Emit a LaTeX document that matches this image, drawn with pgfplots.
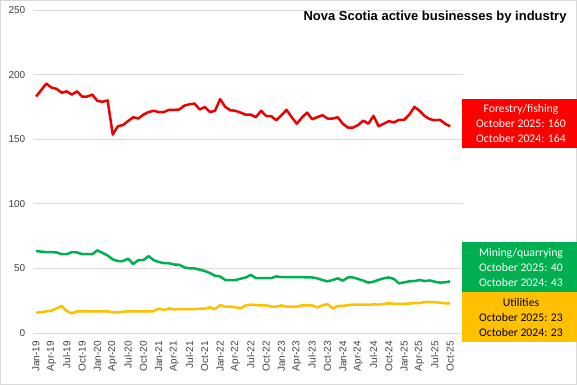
\documentclass[border=0pt]{standalone}
\usepackage{fontspec}
\setmainfont{Liberation Sans}
\newfontfamily\carlito{Carlito}
\usepackage{pgfplots}
\usepackage{pgfplotstable}
\pgfplotsset{compat=1.18}
\definecolor{cred}{HTML}{FF0000}
\definecolor{lred}{HTML}{EE0000}
\definecolor{cgreen}{HTML}{00B050}
\definecolor{cyellow}{HTML}{FFC000}
\definecolor{gridc}{HTML}{D9D9D9}
\definecolor{tickc}{HTML}{404040}

\pgfplotstableread{
red green yellow
183 63.4 15.7
188 63 16.2
193 62.6 16.8
190 62.6 17.3
189 62.4 19
186 61 21
187 61 17
184.5 62.6 15.2
187 62.4 16.8
183 61 16.8
183 61 16.8
184.5 61 16.8
179.6 64 16.8
179 62 16.8
180 60 16.8
153.6 57 16
160 55.7 16
161 55.7 16.5
164 57.5 16.8
167 53.4 16.8
166 56.4 16.8
169 56.4 16.8
171 59.5 16.8
172 56.4 16.8
171 55 19
171 54 17.8
172.7 54 19
172.7 53 18.3
173 52.8 18.5
176 50.8 18.5
177 50 18.5
177.6 50 18.5
173 49 18.8
175 48 18.8
171 46.4 19.8
172 44.3 18.5
181 43.8 21.6
175 41 20.4
172.4 41 20.4
172 41 20
170.6 42 19
169 43 21.4
169 45 22
167 42.5 21.6
172 42.5 21.4
168 42.5 21.4
167.8 42.5 20.4
164.7 43.8 20.4
168.6 43.3 21.4
172.7 43.3 20.4
167 43.3 20.4
162 43.3 20.4
166.8 43.3 21.4
170.6 43 21.4
165.5 43 21.3
167 42.3 19.8
168.6 41 21.4
166 40 22.4
166 41 19
167 42.3 21
162 40.5 21
159 43 21.6
159 43 22
161 41.8 22
164.4 40.5 22
162 39 21.8
168 39.7 22.2
160 41.2 22
162 42.3 22.4
164 43 23
163 41.8 22.6
165 38.4 22.6
165 39.2 22.6
169 40 22.8
175 40.2 23.2
172 41 23.2
168 40.2 24
165.5 40.7 24
164.7 39.7 23.8
165 39 23.5
162 39.2 23
160 40 23
}\datatable

\begin{document}
\begin{tikzpicture}
\path[use as bounding box] (0bp,0bp) rectangle (577bp,385bp);
\draw[gridc, line width=0.75bp] (0.5bp,0.5bp) rectangle (576.5bp,384.5bp);
\begin{axis}[
  at={(33.5bp,52bp)}, anchor=south west,
  scale only axis, width=429.5bp, height=323bp,
  xmin=-0.5, xmax=83.5, ymin=0, ymax=250,
  ytick={0,50,...,250},
  xtick={0,3,...,81},
  xticklabels={Jan-19,Apr-19,Jul-19,Oct-19,Jan-20,Apr-20,Jul-20,Oct-20,Jan-21,Apr-21,Jul-21,Oct-21,Jan-22,Apr-22,Jul-22,Oct-22,Jan-23,Apr-23,Jul-23,Oct-23,Jan-24,Apr-24,Jul-24,Oct-24,Jan-25,Apr-25,Jul-25,Oct-25},
  axis line style={draw=none},
  tick style={draw=none},
  ymajorgrids,
  major grid style={gridc, line width=0.75bp},
  /pgf/number format/assume math mode=true,
  tick label style={font=\fontsize{10bp}{12bp}\selectfont, text=tickc, inner sep=0pt},
  xticklabel style={rotate=90, anchor=east},
  xticklabel shift=8bp,
  yticklabel shift=8bp,
  clip=false,
]
\addplot[lred, line width=2.5bp, line join=round] table[x expr=\coordindex, y=red] {\datatable};
\addplot[cgreen, line width=2.5bp, line join=round] table[x expr=\coordindex, y=green] {\datatable};
\addplot[cyellow, line width=2.5bp, line join=round] table[x expr=\coordindex, y=yellow] {\datatable};
\end{axis}
\node[font=\bfseries\fontsize{13bp}{15bp}\selectfont, text=black] at (435bp,367.5bp) {Nova Scotia active businesses by industry};
\fill[cred] (462.3bp,237.3bp) rectangle (577bp,286bp);
\node[text=white, align=center, font=\carlito\fontsize{11.7bp}{15bp}\selectfont] at (521bp,261.5bp) {Forestry/fishing\\October 2025: 160\\October 2024: 164};
\fill[cgreen] (462.3bp,93.3bp) rectangle (577bp,143bp);
\node[text=white, align=center, font=\carlito\fontsize{11.7bp}{15bp}\selectfont] at (521bp,118bp) {Mining/quarrying\\October 2025: 40\\October 2024: 43};
\fill[cyellow] (462.3bp,43.3bp) rectangle (577bp,93bp);
\node[text=black, align=center, font=\carlito\fontsize{11.7bp}{15bp}\selectfont] at (521bp,68bp) {Utilities\\October 2025: 23\\October 2024: 23};
\end{tikzpicture}
\end{document}
